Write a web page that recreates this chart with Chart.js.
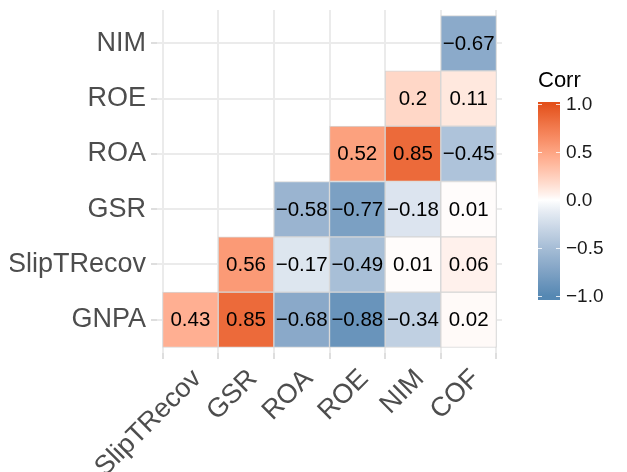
<!DOCTYPE html>
<html>
<head>
<meta charset="utf-8">
<script src="https://cdn.jsdelivr.net/npm/chart.js@4.4.1/dist/chart.umd.min.js"></script>
<style>
  html, body { margin: 0; padding: 0; background: #fff; }
  #wrap { width: 627px; height: 472px; }
</style>
</head>
<body>
<div id="wrap"><canvas id="chart" width="627" height="472"></canvas></div>
<script>
// categories
const xCats = ["SlipTRecov", "GSR", "ROA", "ROE", "NIM", "COF"];
const yCats = ["GNPA", "SlipTRecov", "GSR", "ROA", "ROE", "NIM"];

// correlation rows (bottom to top), columns follow xCats
const gnpa = [0.43, 0.85, -0.68, -0.88, -0.34, 0.02];
const slipTRecov = [null, 0.56, -0.17, -0.49, 0.01, 0.06];
const gsr = [null, null, -0.58, -0.77, -0.18, 0.01];
const roa = [null, null, null, 0.52, 0.85, -0.45];
const roe = [null, null, null, null, 0.2, 0.11];
const nim = [null, null, null, null, null, -0.67];
const rows = [gnpa, slipTRecov, gsr, roa, roe, nim];

// legend
const legendTicks = [1.0, 0.5, 0.0, -0.5, -1.0];

const lowColor = "#5588B3";
const highColor = "#E3501A";
const fontFamily = "'Liberation Sans', Arial, sans-serif";

// couleurs interpolées dans l'espace Lab (comme scale_fill_gradient2)
function hexToRgb(h) {
  return [1, 3, 5].map((i) => parseInt(h.slice(i, i + 2), 16));
}
function rgbToLab(rgb) {
  const lin = (c) => {
    c /= 255;
    return c <= 0.04045 ? c / 12.92 : Math.pow((c + 0.055) / 1.055, 2.4);
  };
  const [R, G, B] = rgb.map(lin);
  const X = (R * 0.4124 + G * 0.3576 + B * 0.1805) / 0.95047;
  const Y = R * 0.2126 + G * 0.7152 + B * 0.0722;
  const Z = (R * 0.0193 + G * 0.1192 + B * 0.9505) / 1.08883;
  const f = (t) => (t > 0.008856 ? Math.cbrt(t) : 7.787 * t + 16 / 116);
  return [116 * f(Y) - 16, 500 * (f(X) - f(Y)), 200 * (f(Y) - f(Z))];
}
function labToRgb(lab) {
  const [L, a, b] = lab;
  const fy = (L + 16) / 116, fx = fy + a / 500, fz = fy - b / 200;
  const inv = (t) => (t * t * t > 0.008856 ? t * t * t : (t - 16 / 116) / 7.787);
  const X = inv(fx) * 0.95047, Y = inv(fy), Z = inv(fz) * 1.08883;
  const R = X * 3.2406 - Y * 1.5372 - Z * 0.4986;
  const G = -X * 0.9689 + Y * 1.8758 + Z * 0.0415;
  const B = X * 0.0557 - Y * 0.204 + Z * 1.057;
  const g = (c) => {
    c = c <= 0.0031308 ? 12.92 * c : 1.055 * Math.pow(c, 1 / 2.4) - 0.055;
    return Math.round(Math.max(0, Math.min(1, c)) * 255);
  };
  return `rgb(${g(R)},${g(G)},${g(B)})`;
}
const lowLab = rgbToLab(hexToRgb(lowColor));
const highLab = rgbToLab(hexToRgb(highColor));
const midLab = [100, 0, 0];
function corrColor(v) {
  const end = v < 0 ? lowLab : highLab;
  const t = Math.pow(Math.min(1, Math.abs(v)), 0.9);
  return labToRgb(midLab.map((m, i) => m + (end[i] - m) * t));
}
function fmt(v) {
  return String(v).replace("-", "\u2212");
}

// cellules
const cells = [];
rows.forEach((row, r) => {
  row.forEach((v, c) => {
    if (v === null) return;
    cells.push({ x: c, y: [r - 0.5, r + 0.5], v: v });
  });
});

const cellLabels = {
  id: "cellLabels",
  afterDatasetsDraw(chart) {
    const ctx = chart.ctx;
    const meta = chart.getDatasetMeta(0);
    ctx.save();
    ctx.fillStyle = "#000";
    ctx.font = "20.5px " + fontFamily;
    ctx.textAlign = "center";
    ctx.textBaseline = "middle";
    meta.data.forEach((el, i) => {
      const p = el.getCenterPoint();
      ctx.fillText(fmt(cells[i].v), p.x, p.y + 1);
    });
    ctx.restore();
  },
};

// légende "Corr"
const colorBar = {
  id: "colorBar",
  afterDraw(chart) {
    const ctx = chart.ctx;
    const left = 538, right = 560, top = 102, bottom = 300;
    const yHi = 104, yLo = 296;
    const yOf = (v) => yLo + ((v + 1) / 2) * (yHi - yLo);
    ctx.save();
    ctx.fillStyle = "#000";
    ctx.font = "22px " + fontFamily;
    ctx.textAlign = "left";
    ctx.textBaseline = "alphabetic";
    ctx.fillText("Corr", 538, 87);

    const grad = ctx.createLinearGradient(0, top, 0, bottom);
    for (let i = 0; i <= 40; i++) {
      const v = 1 - i / 20;
      const y = yOf(v);
      grad.addColorStop(Math.min(1, Math.max(0, (y - top) / (bottom - top))), corrColor(v));
    }
    ctx.fillStyle = grad;
    ctx.fillRect(left, top, right - left, bottom - top);

    ctx.strokeStyle = "rgba(255,255,255,0.8)";
    ctx.lineWidth = 1;
    ctx.font = "19px " + fontFamily;
    ctx.textBaseline = "middle";
    legendTicks.forEach((t) => {
      const y = Math.round(yOf(t)) + 0.5;
      ctx.beginPath();
      ctx.moveTo(left, y);
      ctx.lineTo(left + 4, y);
      ctx.moveTo(right - 4, y);
      ctx.lineTo(right, y);
      ctx.stroke();
      ctx.fillStyle = "#1a1a1a";
      ctx.fillText(fmt(t.toFixed(1)), 566, y);
    });
    ctx.restore();
  },
};

const chart = new Chart(document.getElementById("chart"), {
  type: "bar",
  data: {
    datasets: [
      {
        data: cells,
        backgroundColor: cells.map((c) => corrColor(c.v)),
        borderColor: "#d6d6d6",
        borderWidth: 1,
        borderSkipped: false,
        barPercentage: 1,
        categoryPercentage: 1,
      },
    ],
  },
  options: {
    responsive: false,
    animation: false,
    parsing: { xAxisKey: "x", yAxisKey: "y" },
    layout: { padding: { left: 10, top: 10, right: 125, bottom: 0 } },
    plugins: { legend: { display: false }, tooltip: { enabled: false } },
    scales: {
      x: {
        type: "linear",
        min: -0.6,
        max: 5.6,
        offset: false,
        afterBuildTicks: (s) => {
          s.ticks = xCats.map((c, i) => ({ value: i }));
        },
        afterFit: (s) => {
          s.height = 119;
          s.paddingLeft = 0;
          s.paddingRight = 0;
        },
        grid: { color: "#ebebeb", lineWidth: 2, tickLength: 6, tickColor: "#dedede", tickWidth: 2 },
        border: { display: false },
        ticks: {
          autoSkip: false,
          minRotation: 45,
          maxRotation: 45,
          padding: 4,
          labelOffset: 7,
          color: "#4d4d4d",
          font: { family: fontFamily, size: 27 },
          callback: (v) => xCats[v],
        },
      },
      y: {
        type: "linear",
        min: -0.6,
        max: 5.6,
        afterBuildTicks: (s) => {
          s.ticks = yCats.map((c, i) => ({ value: i }));
        },
        afterFit: (s) => {
          s.width = 147;
          s.paddingTop = 0;
          s.paddingBottom = 0;
        },
        grid: { color: "#ebebeb", lineWidth: 2, tickLength: 6, tickColor: "#dedede", tickWidth: 2 },
        border: { display: false },
        ticks: {
          autoSkip: false,
          padding: 5,
          color: "#4d4d4d",
          font: { family: fontFamily, size: 27 },
          callback: (v) => yCats[v],
        },
      },
    },
  },
  plugins: [cellLabels, colorBar],
});
</script>
</body>
</html>
